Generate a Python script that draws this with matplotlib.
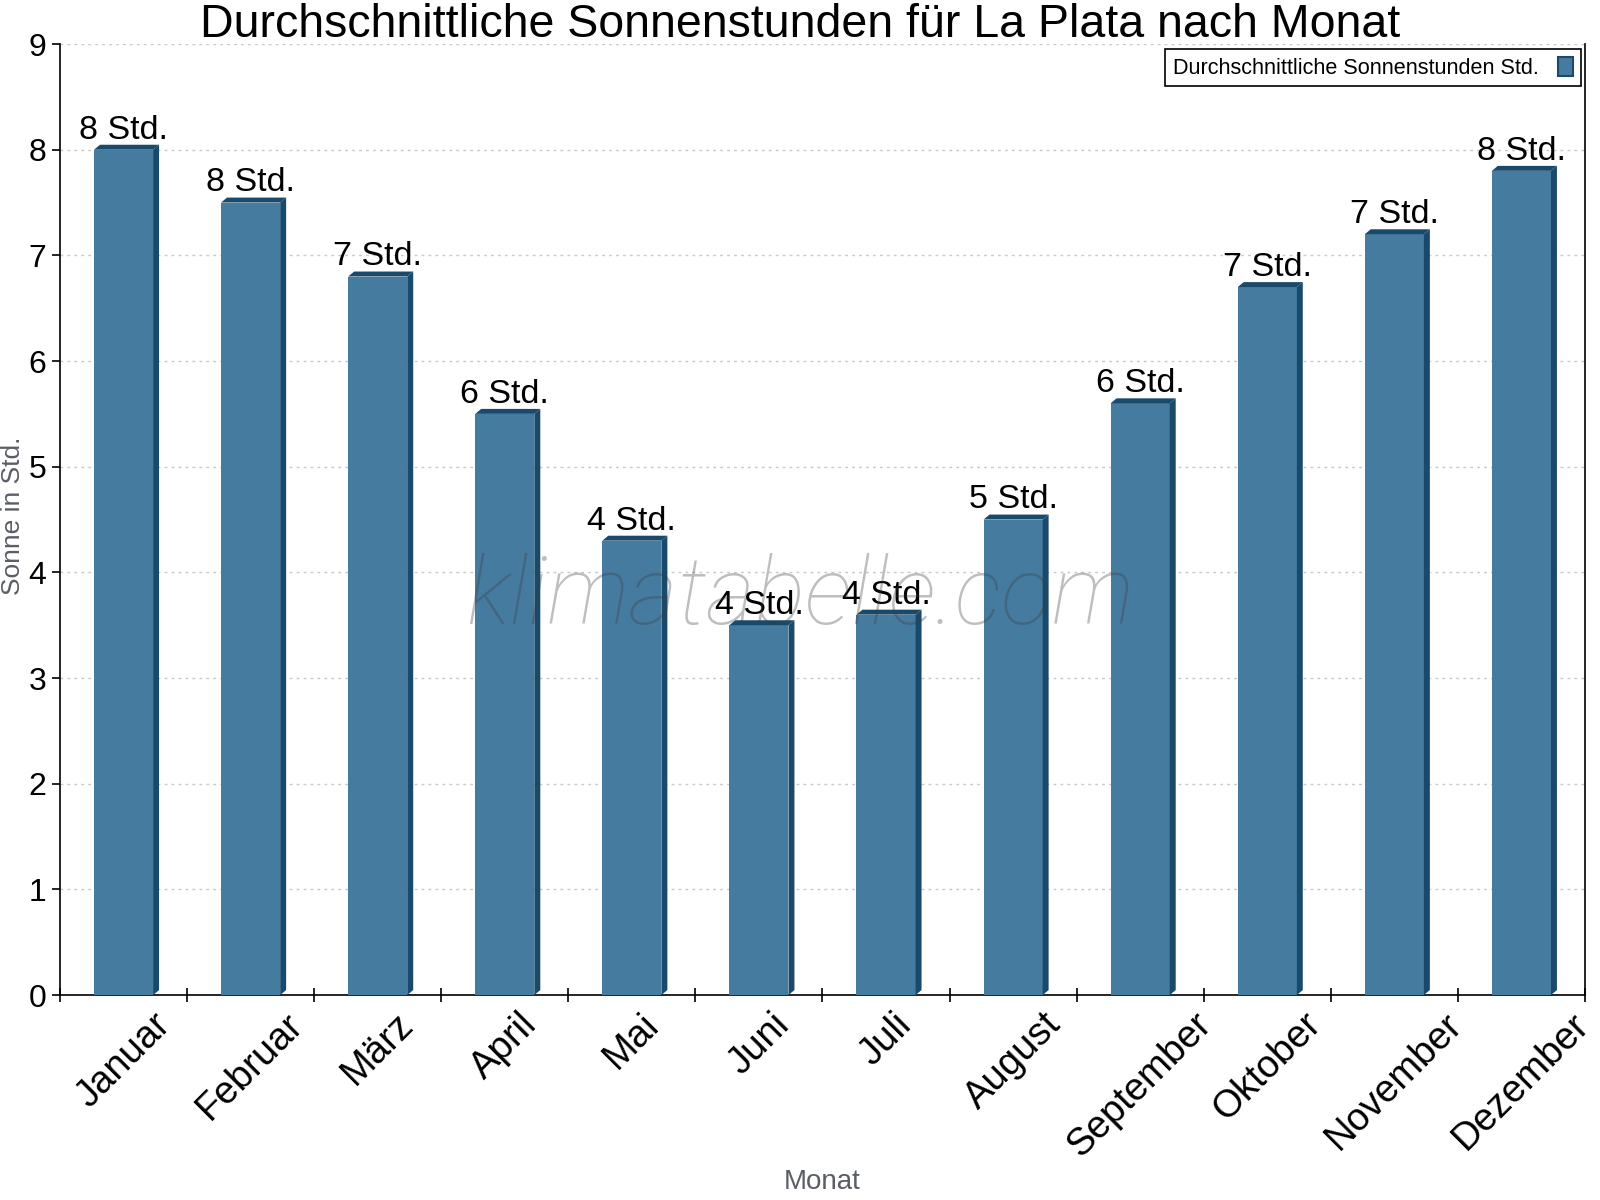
import numpy as np
import matplotlib
matplotlib.use('Agg')
import matplotlib.pyplot as plt
from matplotlib.patches import Polygon, Patch

months = ['Januar', 'Februar', 'März', 'April', 'Mai', 'Juni',
          'Juli', 'August', 'September', 'Oktober', 'November', 'Dezember']
sun_hours = [8.0, 7.5, 6.8, 5.5, 4.3, 3.5, 3.6, 4.5, 5.6, 6.7, 7.2, 7.8]
y_ticks = [0, 1, 2, 3, 4, 5, 6, 7, 8, 9]

title = 'Durchschnittliche Sonnenstunden für La Plata nach Monat'
legend_label = 'Durchschnittliche Sonnenstunden Std.'

front_color = '#467ba0'
dark_color = '#194a6b'

plt.rcParams['font.family'] = ['Liberation Sans', 'DejaVu Sans']


def draw_bar(ax, x, h, width, dx, dy):
    x0 = x - width / 2
    x1 = x + width / 2

    #front face
    ax.add_patch(Polygon([(x0, 0), (x1, 0), (x1, h), (x0, h)],
                         closed=True, facecolor=front_color, edgecolor='none', zorder=3))
    #right side
    ax.add_patch(Polygon([(x1, 0), (x1 + dx, dy), (x1 + dx, h + dy), (x1, h)],
                         closed=True, facecolor=dark_color, edgecolor='none', zorder=3))
    #top
    ax.add_patch(Polygon([(x0, h), (x0 + dx, h + dy), (x1 + dx, h + dy), (x1, h)],
                         closed=True, facecolor=dark_color, edgecolor='none', zorder=3))


fig = plt.figure(figsize=(16, 12), dpi=100)
ax = fig.add_axes([0.0375, 0.1708, 0.9531, 0.7925])

xs = np.arange(len(months))
width = 0.465
dx = 0.047
dy = 0.047

for x, h in zip(xs, sun_hours):
    draw_bar(ax, x, h, width, dx, dy)
    label = str(int(np.floor(h + 0.5))) + ' Std.'
    ax.annotate(label, xy=(x, h), xytext=(0, 8), textcoords='offset points',
                ha='center', va='baseline', fontsize=24.5, zorder=5)

ax.set_xlim(-0.5, len(months) - 0.5)
ax.set_ylim(0, 9)

ax.set_yticks(y_ticks)
ax.tick_params(axis='y', labelsize=23, length=6, width=1.2, direction='out', pad=4)

#labels at centres, tick marks at the category borders
ax.set_xticks(xs)
ax.set_xticklabels(months, rotation=45, ha='center', fontsize=27.5)
ax.tick_params(axis='x', which='major', length=0, pad=8)
ax.set_xticks(np.arange(-0.5, len(months), 1.0), minor=True)
ax.tick_params(axis='x', which='minor', length=10, width=1.2, direction='inout')

ax.yaxis.grid(True, linestyle=(0, (2, 3)), color='#c8c8c8', linewidth=1)
ax.set_axisbelow(True)

ax.spines['top'].set_visible(False)
for s in ['left', 'bottom', 'right']:
    ax.spines[s].set_linewidth(1.2)

ax.set_ylabel('Sonne in Std.', fontsize=19, color='#5a5f66')
ax.yaxis.set_label_coords(-0.023, 0.504)
ax.set_xlabel('Monat', fontsize=20, color='#5a5f66')
ax.xaxis.set_label_coords(0.5, -0.183)

fig.text(0.5, 1 - 37 / 1200, title, ha='center', va='baseline', fontsize=33.5)

handle = Patch(facecolor=front_color, edgecolor=dark_color, linewidth=1.5)
leg = ax.legend([handle], [legend_label], loc='upper right', bbox_to_anchor=(0.9974, 0.9947),
                borderaxespad=0, fontsize=15.6, markerfirst=False, fancybox=False, framealpha=1,
                edgecolor='black', handlelength=0.7, handleheight=1.0, borderpad=0.35,
                handletextpad=0.9)
leg.get_frame().set_linewidth(1.2)

#watermark
fig.text(0.5, 1 - 624 / 1200, 'klimatabelle.com', ha='center', va='baseline',
         fontsize=68, style='italic', fontweight='light', family=['Roboto', 'DejaVu Sans'],
         color='#3c3c3c', alpha=0.33, zorder=10)

fig.savefig('out.png', dpi=100)
